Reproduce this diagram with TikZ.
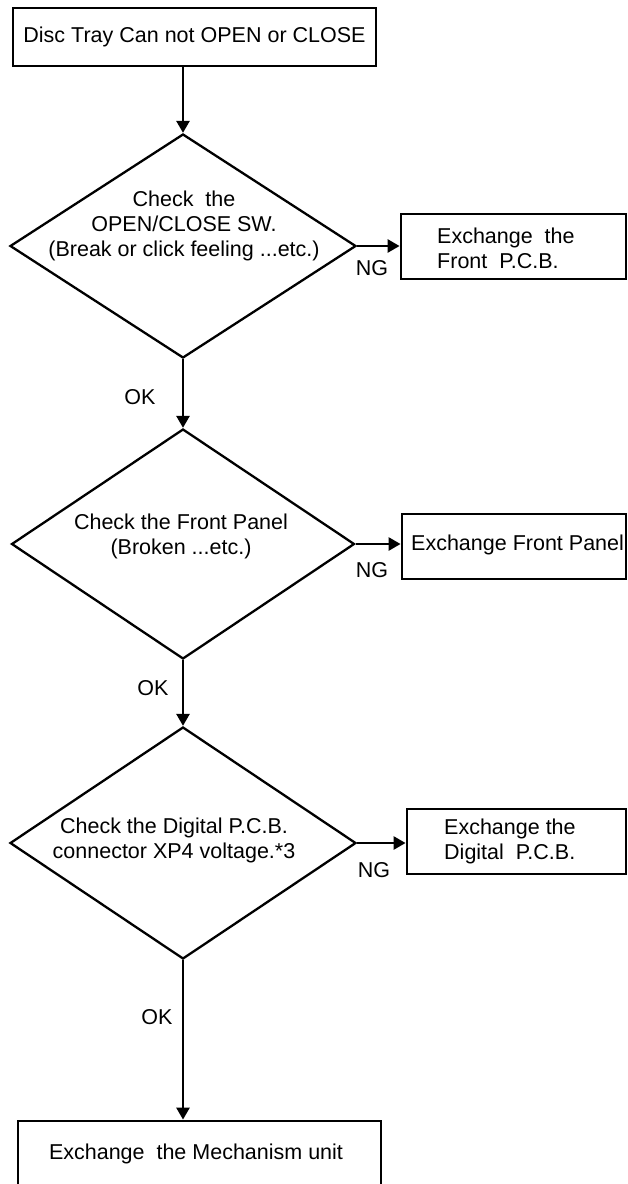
\documentclass[tikz,border=0pt]{standalone}
\usepackage{fontspec}
\setmainfont{Liberation Sans}
\usetikzlibrary{shapes.geometric,arrows.meta}
\begin{document}
\begin{tikzpicture}[x=1pt,y=-1pt,
  font=\fontsize{21.5}{25}\selectfont,
  boxst/.style={draw, line width=2.8pt, inner sep=0pt, fill=none},
  dia/.style={draw, diamond, line width=2.3pt, inner sep=0pt},
  txt/.style={inner sep=0pt, align=center},
  ltxt/.style={inner sep=0pt, align=left, anchor=west},
  arr/.style={line width=2.6pt, -{Triangle[length=12pt,width=13pt]}}]
\useasboundingbox (0,0) rectangle (627,1184);
% start box
\node[boxst, minimum width=363pt, minimum height=58pt] (top) at (194.5,37) {};
\node[txt] (topt) at (194.5,37) {Disc Tray Can not OPEN or CLOSE};
% decision 1
\node[dia, minimum width=346pt, minimum height=224pt] (d1) at (183,246) {};
\node[txt] (d1t) at (184,226) {Check\ \ the\\OPEN/CLOSE SW.\\(Break or click feeling ...etc.)};
\node[boxst, minimum width=225pt, minimum height=65pt] (b1) at (513.5,246.5) {};
\node[ltxt] (b1t) at (437,248) {Exchange\ \ the\\Front\ \ P.C.B.};
\node[txt] (ng1) at (372,268) {NG};
\node[txt] (ok1) at (140,397) {OK};
% decision 2
\node[dia, minimum width=343pt, minimum height=230pt] (d2) at (183,544) {};
\node[txt] (d2t) at (181,536) {Check the Front Panel\\(Broken ...etc.)};
\node[boxst, minimum width=224pt, minimum height=65pt] (b2) at (514,546.5) {};
\node[ltxt] (b2t) at (411,545) {Exchange Front Panel};
\node[txt] (ng2) at (372,570) {NG};
\node[txt] (ok2) at (153,688) {OK};
% decision 3
\node[dia, minimum width=346pt, minimum height=232pt] (d3) at (183,843) {};
\node[txt] (d3t) at (174,840) {Check the Digital P.C.B.\\connector XP4 voltage.*3};
\node[boxst, minimum width=219pt, minimum height=65pt] (b3) at (516.5,841.5) {};
\node[ltxt] (b3t) at (444,841) {Exchange the\\Digital\ \ P.C.B.};
\node[txt] (ng3) at (374,870) {NG};
\node[txt] (ok3) at (157,1017) {OK};
% end box
\node[boxst, minimum width=363pt, minimum height=72pt] (bot) at (199.5,1157) {};
\node[txt] (bott) at (196,1154) {Exchange\ \ the Mechanism unit};
% connectors
\draw[arr] (top.south -| d1.north) -- (d1.north);
\draw[arr] (d1.east) -- (d1.east -| b1.west);
\draw[arr] (d1.south) -- (d2.north);
\draw[arr] (d2.east) -- (d2.east -| b2.west);
\draw[arr] (d2.south) -- (d3.north);
\draw[arr] (d3.east) -- (d3.east -| b3.west);
\draw[arr] (d3.south) -- (d3.south |- bot.north);
\end{tikzpicture}
\end{document}
